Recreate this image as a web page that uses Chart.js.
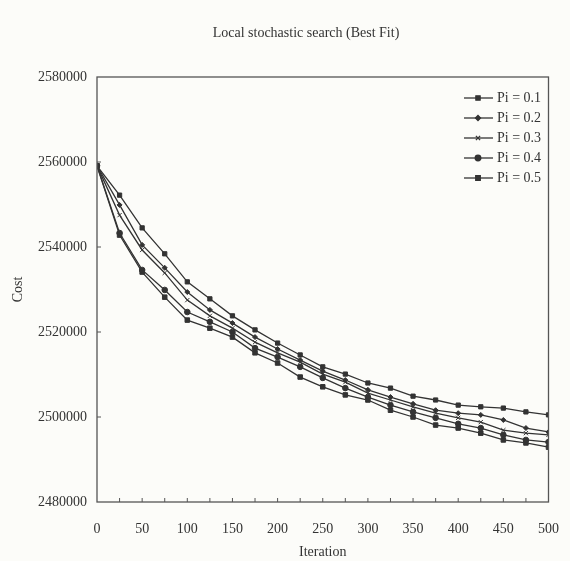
<!DOCTYPE html>
<html>
<head>
<meta charset="utf-8">
<script src="https://cdn.jsdelivr.net/npm/chart.js@4.4.1/dist/chart.umd.min.js"></script>
<style>
  html, body { margin: 0; padding: 0; background: #fcfcf9; }
  #wrap { width: 570px; height: 561px; }
</style>
</head>
<body>
<div id="wrap"><canvas id="grafico"></canvas></div>
<script>
// iteracoes (eixo x)
const iteracoes = [0, 25, 50, 75, 100, 125, 150, 175, 200, 225, 250, 275, 300, 325, 350, 375, 400, 425, 450, 475, 500];

// custo de cada serie
const pi01 = [2559100, 2552200, 2544500, 2538400, 2531800, 2527800, 2523800, 2520500, 2517400, 2514600, 2511800, 2510100, 2508000, 2506800, 2504900, 2504000, 2502800, 2502400, 2502100, 2501200, 2500500];
const pi02 = [2559100, 2549900, 2540500, 2535100, 2529400, 2525200, 2522100, 2518800, 2516000, 2513400, 2510800, 2508700, 2506400, 2504700, 2503100, 2501600, 2500900, 2500500, 2499300, 2497400, 2496500];
const pi03 = [2559100, 2547500, 2539300, 2533900, 2527500, 2523800, 2520900, 2517600, 2515100, 2512900, 2510100, 2508200, 2505600, 2504000, 2502400, 2500900, 2499800, 2498800, 2496900, 2496200, 2495800];
const pi04 = [2559100, 2543300, 2534600, 2529900, 2524700, 2522400, 2520000, 2516200, 2514100, 2511800, 2509200, 2506800, 2504700, 2502800, 2501200, 2499800, 2498400, 2497400, 2495800, 2494600, 2494100];
const pi05 = [2559100, 2542800, 2534100, 2528200, 2522800, 2520900, 2518800, 2515100, 2512700, 2509400, 2507100, 2505200, 2504000, 2501600, 2500000, 2498100, 2497400, 2496200, 2494600, 2493900, 2492900];

const rotulos = ['Pi = 0.1', 'Pi = 0.2', 'Pi = 0.3', 'Pi = 0.4', 'Pi = 0.5'];
const series = [pi01, pi02, pi03, pi04, pi05];
const marcadores = ['rect', 'rectRot', 'crossRot', 'circle', 'rect'];
const raios = [3, 2.5, 3, 2.8, 3.2];
const titulo = 'Local stochastic search (Best Fit)';

const fonte = 'Liberation Serif';
const cor = '#333';

const datasets = series.map((s, i) => ({
    label: rotulos[i],
    data: s.map((v, k) => ({ x: iteracoes[k], y: v })),
    borderColor: cor,
    backgroundColor: cor,
    borderWidth: 1.3,
    pointStyle: marcadores[i],
    pointRadius: raios[i],
    pointBorderWidth: 1,
    tension: 0
}));

// titulo, moldura, marcas internas e legenda
const moldura = {
    id: 'moldura',
    afterDraw(chart) {
        const ctx = chart.ctx;
        const a = chart.chartArea;
        const sx = chart.scales.x, sy = chart.scales.y;
        ctx.save();
        ctx.font = '14px "' + fonte + '"';
        ctx.fillStyle = cor;
        ctx.textAlign = 'center';
        ctx.textBaseline = 'middle';
        ctx.fillText(titulo, 306, 33);

        ctx.strokeStyle = '#555';
        ctx.lineWidth = 1.3;
        ctx.strokeRect(a.left, a.top, a.right - a.left, a.bottom - a.top);

        ctx.lineWidth = 1;
        for (let v = 25; v < 500; v += 25) {
            const x = sx.getPixelForValue(v);
            ctx.beginPath();
            ctx.moveTo(x, a.bottom);
            ctx.lineTo(x, a.bottom - 4);
            ctx.stroke();
        }
        for (let v = 2500000; v < 2580000; v += 20000) {
            const y = sy.getPixelForValue(v);
            ctx.beginPath();
            ctx.moveTo(a.left, y);
            ctx.lineTo(a.left + 4, y);
            ctx.stroke();
        }

        // legenda
        const y0 = 98, passo = 20;
        ctx.textAlign = 'left';
        chart.data.datasets.forEach((d, i) => {
            const y = y0 + i * passo;
            ctx.strokeStyle = cor;
            ctx.lineWidth = 1.3;
            ctx.beginPath();
            ctx.moveTo(464, y);
            ctx.lineTo(493, y);
            ctx.stroke();
            Chart.helpers.drawPoint(ctx, {
                pointStyle: d.pointStyle, radius: d.pointRadius, borderWidth: 1, rotation: 0
            }, 478, y);
            ctx.fillStyle = cor;
            ctx.fill();
            ctx.fillText(d.label, 497, y);
        });
        ctx.restore();
    }
};

const ctx = document.getElementById('grafico');
const grafico = new Chart(ctx, {
    type: 'line',
    data: { datasets },
    options: {
        responsive: true,
        maintainAspectRatio: false,
        animation: false,
        layout: { padding: { top: 77, right: 14, bottom: 0, left: 0 } },
        plugins: {
            legend: { display: false },
            tooltip: { enabled: false },
            title: { display: false }
        },
        scales: {
            x: {
                type: 'linear',
                min: 0, max: 500,
                grid: { display: false },
                border: { display: false },
                ticks: { stepSize: 50, color: '#333', padding: 11, maxRotation: 0,
                         font: { family: fonte, size: 14 } },
                title: { display: true, text: 'Iteration', color: '#333',
                         font: { family: fonte, size: 14 }, padding: { top: 4, bottom: 0 } },
                afterFit(s) { s.height = 59; }
            },
            y: {
                min: 2480000, max: 2580000,
                grid: { display: false },
                border: { display: false },
                ticks: { stepSize: 20000, color: '#333', padding: 2,
                         font: { family: fonte, size: 14 },
                         callback: v => String(v) },
                title: { display: true, text: 'Cost', color: '#333',
                         font: { family: fonte, size: 14 }, padding: { top: 10, bottom: 0 } },
                afterFit(s) { s.width = 97; }
            }
        }
    },
    plugins: [moldura]
});
</script>
</body>
</html>
